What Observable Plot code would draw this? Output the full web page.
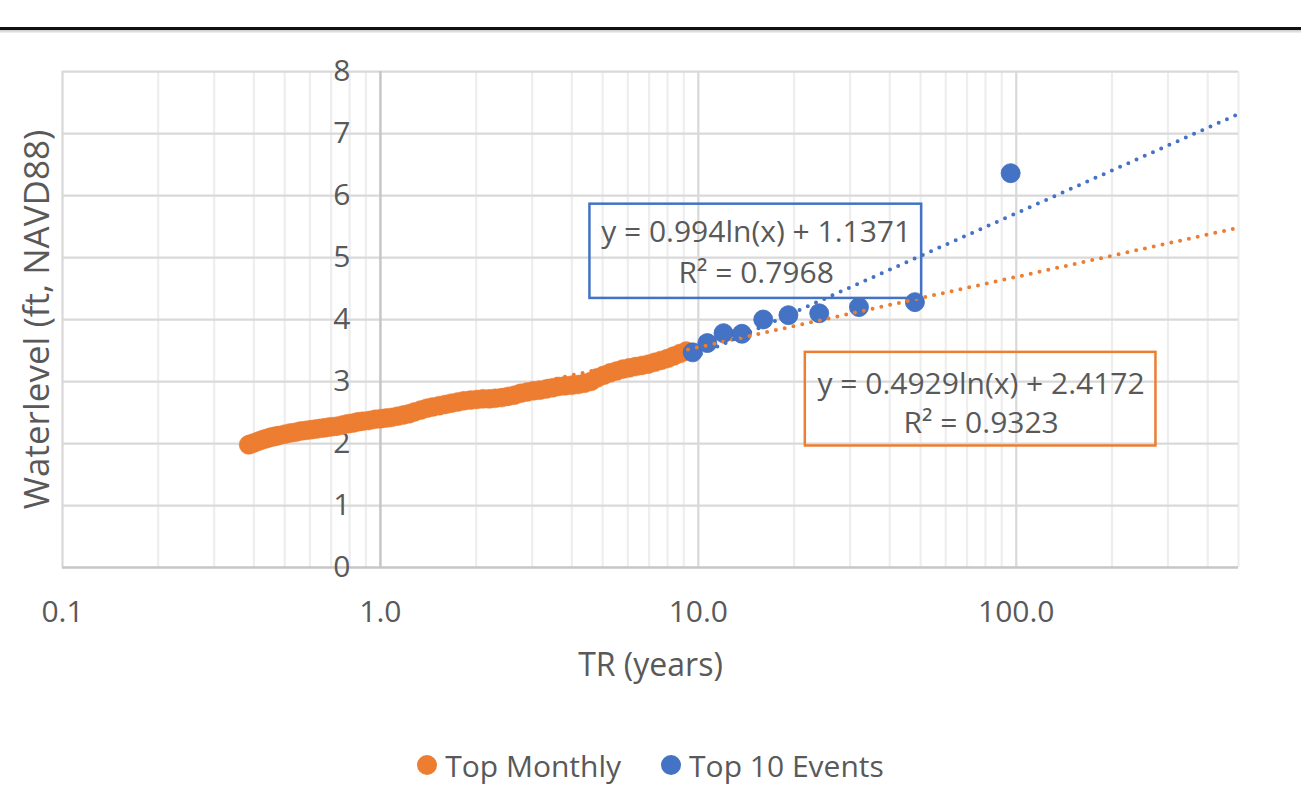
<!DOCTYPE html>
<html>
<head>
<meta charset="utf-8">
<script src="https://cdn.jsdelivr.net/npm/d3@7"></script>
<script src="https://cdn.jsdelivr.net/npm/@observablehq/plot@0.6"></script>
<style>
  html, body { margin: 0; padding: 0; background: #fff; }
  #wrap { position: relative; width: 1301px; height: 802px; overflow: hidden; font-family: "Open Sans", Lato, sans-serif; color: #595959; }
  #topline { position: absolute; left: 0; top: 27px; width: 1301px; height: 3px; background: #111; }
  #topshadow { position: absolute; left: 0; top: 30px; width: 1301px; height: 3px; background: linear-gradient(#c8c8c8, #f4f4f4); }
  #chart { position: absolute; left: 0; top: 0; }
  #legend { position: absolute; left: 0; top: 745px; width: 1301px; height: 40px; display: flex; justify-content: center; align-items: center; font-size: 30px; }
  .item { display: flex; align-items: center; margin: 0 20px; }
  .sw { width: 20px; height: 20px; border-radius: 50%; margin-right: 8px; }
</style>
</head>
<body>
<div id="wrap">
  <div id="chart"></div>
  <div id="topline"></div>
  <div id="topshadow"></div>
  <div id="legend"></div>
</div>
<script>
// ---- Data ----
// Top Monthly: return period (years) and water level (ft, NAVD88)
const monthlyTR = [0.385, 0.39, 0.40, 0.41, 0.42, 0.43, 0.44, 0.45, 0.46, 0.47, 0.48, 0.50, 0.52, 0.54, 0.56, 0.58, 0.60, 0.62, 0.64, 0.66, 0.68, 0.70, 0.73, 0.76, 0.79, 0.82, 0.85, 0.88, 0.92, 0.96, 1.00, 1.04, 1.08, 1.13, 1.18, 1.23, 1.28, 1.34, 1.40, 1.46, 1.53, 1.60, 1.67, 1.75, 1.83, 1.92, 2.01, 2.10, 2.20, 2.30, 2.41, 2.52, 2.64, 2.76, 2.89, 3.03, 3.17, 3.32, 3.48, 3.64, 3.81, 3.99, 4.18, 4.38, 4.59, 4.81, 5.04, 5.28, 5.53, 5.79, 6.06, 6.35, 6.65, 6.96, 7.29, 7.63, 7.99, 8.36, 8.75, 9.16];
const monthlyLevel = [1.98, 1.99, 2.01, 2.03, 2.05, 2.07, 2.08, 2.10, 2.11, 2.12, 2.13, 2.15, 2.17, 2.18, 2.20, 2.21, 2.22, 2.23, 2.24, 2.25, 2.26, 2.27, 2.28, 2.30, 2.32, 2.33, 2.35, 2.36, 2.37, 2.39, 2.40, 2.41, 2.42, 2.44, 2.46, 2.48, 2.51, 2.54, 2.57, 2.59, 2.61, 2.63, 2.65, 2.67, 2.69, 2.70, 2.71, 2.72, 2.72, 2.73, 2.74, 2.76, 2.78, 2.81, 2.83, 2.85, 2.86, 2.88, 2.90, 2.92, 2.93, 2.94, 2.95, 2.97, 3.00, 3.06, 3.10, 3.14, 3.17, 3.20, 3.22, 3.24, 3.26, 3.28, 3.31, 3.34, 3.37, 3.41, 3.45, 3.49];
// Top 10 Events
const eventsTR = [9.6, 10.67, 12.0, 13.71, 16.0, 19.2, 24.0, 32.0, 48.0, 96.0];
const eventsLevel = [3.47, 3.62, 3.78, 3.77, 4.00, 4.07, 4.10, 4.20, 4.28, 6.36];
// Trendlines (logarithmic fits shown on the chart)
const monthlyFit = { a: 0.4929, b: 2.4172, label: "y = 0.4929ln(x) + 2.4172", r2label: "R² = 0.9323" };
const eventsFit = { a: 0.994, b: 1.1371, label: "y = 0.994ln(x) + 1.1371", r2label: "R² = 0.7968" };
// Axis ticks
const xTicks = [0.1, 1, 10, 100];
const xTickLabels = ["0.1", "1.0", "10.0", "100.0"];
const yTicks = [0, 1, 2, 3, 4, 5, 6, 7, 8];
const seriesNames = ["Top Monthly", "Top 10 Events"];
const xTitle = "TR (years)";
const yTitle = "Waterlevel (ft, NAVD88)";

// ---- Build ----
const ORANGE = "#ED7D31", BLUE = "#4472C4";
const FONT = "'Open Sans', Lato, sans-serif";
const xMax = 500;
const monthly = monthlyTR.map((x, i) => ({ x, y: monthlyLevel[i] }));
const events = eventsTR.map((x, i) => ({ x, y: eventsLevel[i] }));
const trend = (fit, x0) => [x0, xMax].map(x => ({ x, y: fit.a * Math.log(x) + fit.b }));
const minorTicks = [];
for (const d of [0.1, 1, 10, 100]) for (let m = 2; m <= 9; m++) if (d * m <= xMax + 1e-9) minorTicks.push(+(d * m).toPrecision(3));

// annotation boxes (data coordinates)
const boxes = [
  { x1: 4.56, x2: 50.4, y1: 4.34, y2: 5.86, stroke: BLUE, t1: eventsFit.label, t2: eventsFit.r2label, tx: 15.2, ty1: 5.41, ty2: 4.75 },
  { x1: 21.7, x2: 275, y1: 1.96, y2: 3.47, stroke: ORANGE, t1: monthlyFit.label, t2: monthlyFit.r2label, tx: 77.5, ty1: 2.96, ty2: 2.33 }
];

const chart = Plot.plot({
  width: 1301,
  height: 802,
  marginLeft: 62,
  marginRight: 63,
  marginTop: 71,
  marginBottom: 235,
  style: { fontFamily: FONT, fontSize: "30px", color: "#595959", background: "transparent" },
  x: { type: "log", domain: [0.1, xMax], axis: null },
  y: { domain: [0, 8], axis: null },
  marks: [
    Plot.ruleX(minorTicks, { stroke: "#eeeeee", strokeWidth: 2.25 }),
    Plot.ruleX(xTicks.filter(d => d !== 1), { stroke: "#d9d9d9", strokeWidth: 2.25 }),
    Plot.ruleY(yTicks.filter(d => d !== 0), { stroke: "#d9d9d9", strokeWidth: 2.25 }),
    Plot.ruleX([1], { stroke: "#c6c6c6", strokeWidth: 2.5 }),
    Plot.ruleY([0], { stroke: "#c6c6c6", strokeWidth: 2.5 }),
    // tick labels
    Plot.text(xTicks, { x: d => d, frameAnchor: "bottom", dy: 45, text: (d, i) => xTickLabels[i], lineAnchor: "middle" }),
    Plot.text(yTicks, { x: () => 1, y: d => d, text: d => String(d), textAnchor: "end", dx: -30, lineAnchor: "middle" }),
    // axis titles
    Plot.text([xTitle], { frameAnchor: "bottom", dy: 98, text: d => d, textAnchor: "middle", lineAnchor: "middle", fontSize: 32 }),
    Plot.text([yTitle], { frameAnchor: "left", dx: -25, rotate: -90, text: d => d, textAnchor: "middle", lineAnchor: "middle", fontSize: 35 }),
    // data
    Plot.dot(monthly, { x: "x", y: "y", r: 9.5, fill: ORANGE, stroke: ORANGE, strokeWidth: 0.5 }),
    Plot.dot(events, { x: "x", y: "y", r: 9.5, fill: BLUE, stroke: "#3f6abb", strokeWidth: 0.8 }),
    // trendlines
    Plot.line(trend(monthlyFit, monthlyTR[0]), { x: "x", y: "y", stroke: ORANGE, strokeWidth: 4, strokeDasharray: "0 9", strokeLinecap: "round" }),
    Plot.line(trend(eventsFit, eventsTR[0]), { x: "x", y: "y", stroke: BLUE, strokeWidth: 4, strokeDasharray: "0 9", strokeLinecap: "round" }),
    // equation boxes
    Plot.rect(boxes, { x1: "x1", x2: "x2", y1: "y1", y2: "y2", fill: "none", stroke: "stroke", strokeWidth: 2.5 }),
    Plot.text(boxes, { x: "tx", y: "ty1", text: "t1", lineAnchor: "middle" }),
    Plot.text(boxes, { x: "tx", y: "ty2", text: "t2", lineAnchor: "middle" })
  ]
});
document.getElementById("chart").appendChild(chart);

// legend
const legend = document.getElementById("legend");
[[seriesNames[0], ORANGE], [seriesNames[1], BLUE]].forEach(([name, col]) => {
  const it = document.createElement("div");
  it.className = "item";
  const sw = document.createElement("span");
  sw.className = "sw";
  sw.style.background = col;
  const tx = document.createElement("span");
  tx.textContent = name;
  it.appendChild(sw); it.appendChild(tx);
  legend.appendChild(it);
});
</script>
</body>
</html>
